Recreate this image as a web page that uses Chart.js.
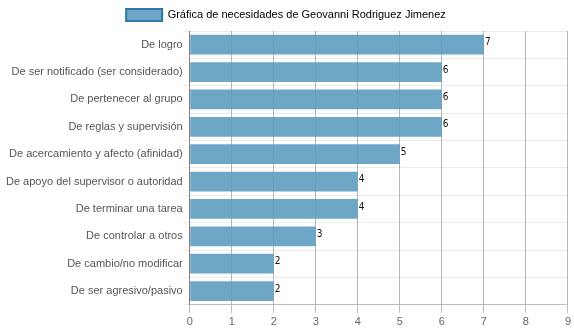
<!DOCTYPE html>
<html>
<head>
<meta charset="utf-8">
<script src="https://cdn.jsdelivr.net/npm/chart.js@4/dist/chart.umd.min.js"></script>
<style>
  html, body { margin: 0; padding: 0; background: #fff; }
  #wrap { width: 574px; height: 334px; }
</style>
</head>
<body>
<div id="wrap"><canvas id="chart"></canvas></div>
<script>
const categories = [
    'De logro',
    'De ser notificado (ser considerado)',
    'De pertenecer al grupo',
    'De reglas y supervisión',
    'De acercamiento y afecto (afinidad)',
    'De apoyo del supervisor o autoridad',
    'De terminar una tarea',
    'De controlar a otros',
    'De cambio/no modificar',
    'De ser agresivo/pasivo'
];
const values = [7, 6, 6, 6, 5, 4, 4, 3, 2, 2];
const seriesName = 'Gráfica de necesidades de Geovanni Rodriguez Jimenez';
const xTicks = [0, 1, 2, 3, 4, 5, 6, 7, 8, 9];

Chart.defaults.font.family = '"Liberation Sans", Arial, sans-serif';
Chart.defaults.font.size = 11;
Chart.defaults.color = '#666';

// draws the value at the end of each bar
const valueLabels = {
    id: 'valueLabels',
    afterDatasetsDraw(chart) {
        const c = chart.ctx;
        c.save();
        c.font = '10px "DejaVu Sans Condensed", sans-serif';
        c.fillStyle = '#111';
        c.textAlign = 'left';
        c.textBaseline = 'top';
        chart.getDatasetMeta(0).data.forEach((bar, i) => {
            c.fillText(values[i], bar.x + 1, bar.y - 7);
        });
        c.restore();
    }
};

const ctx = document.getElementById('chart').getContext('2d');
new Chart(ctx, {
    type: 'bar',
    data: {
        labels: categories,
        datasets: [{
            label: seriesName,
            data: values,
            backgroundColor: 'rgba(90, 155, 190, 0.88)',
            borderWidth: 0
        }]
    },
    options: {
        indexAxis: 'y',
        responsive: true,
        maintainAspectRatio: false,
        animation: false,
        layout: { padding: { left: 4, right: 6, top: 0, bottom: 2 } },
        plugins: {
            legend: {
                labels: {
                    boxWidth: 36,
                    boxHeight: 12,
                    padding: 9,
                    color: '#666',
                    generateLabels: chart => [{
                        text: seriesName,
                        fillStyle: 'rgba(110, 165, 200, 1)',
                        strokeStyle: '#2e78a2',
                        lineWidth: 2,
                        datasetIndex: 0
                    }]
                }
            },
            tooltip: { enabled: false }
        },
        scales: {
            x: {
                min: 0,
                max: 9,
                ticks: { stepSize: 1, color: '#666', callback: (v) => xTicks.includes(v) ? v : '' },
                grid: { color: 'rgba(0,0,0,0.28)' },
                border: { color: 'rgba(0,0,0,0.2)' }
            },
            y: {
                ticks: { color: '#555', autoSkip: false, padding: 2 },
                grid: { color: 'rgba(0,0,0,0.08)', tickLength: 5 },
                border: { color: 'rgba(0,0,0,0.3)' }
            }
        }
    },
    plugins: [valueLabels]
});
</script>
</body>
</html>
